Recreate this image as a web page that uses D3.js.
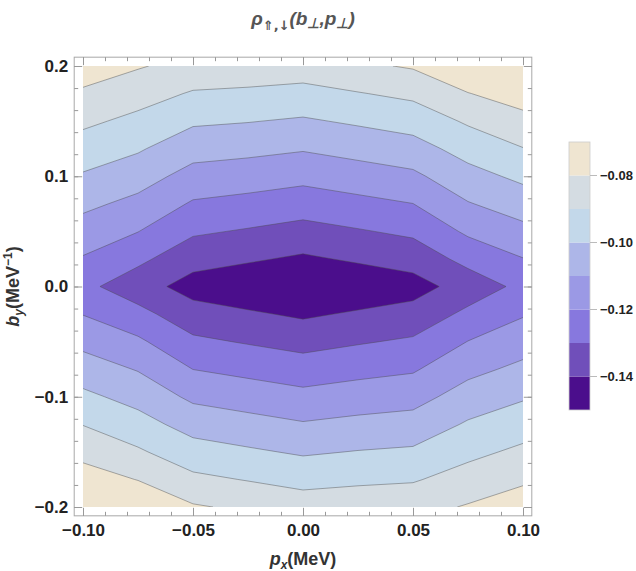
<!DOCTYPE html>
<html>
<head>
<meta charset="utf-8">
<title>rho contour</title>
<script src="https://d3js.org/d3.v7.min.js"></script>
<style>
  body { margin: 0; background: #fff; }
  text { font-family: "Liberation Sans", Arial, sans-serif; }
</style>
</head>
<body>
<div id="chart"></div>
<script>
// grid of the data: p_x columns, b_y rows (top row = 0.2)
var pxGrid = [-0.1, -0.075, -0.05, -0.025, 0, 0.025, 0.05, 0.075, 0.1];
var byGrid = [0.2, 0.175, 0.15, 0.125, 0.1, 0.075, 0.05, 0.025, 0,
              -0.025, -0.05, -0.075, -0.1, -0.125, -0.15, -0.175, -0.2];

// rho values, one row per b_y
var rho = [
  [-0.0749, -0.0792, -0.0833, -0.0840, -0.0850, -0.0818, -0.0790, -0.0720, -0.0682],
  [-0.0815, -0.0859, -0.0909, -0.0918, -0.0931, -0.0905, -0.0878, -0.0803, -0.0756],
  [-0.0880, -0.0925, -0.0985, -0.0996, -0.1012, -0.0986, -0.0959, -0.0887, -0.0829],
  [-0.0945, -0.0989, -0.1061, -0.1074, -0.1092, -0.1066, -0.1039, -0.0962, -0.0903],
  [-0.1010, -0.1057, -0.1136, -0.1152, -0.1172, -0.1146, -0.1120, -0.1034, -0.0978],
  [-0.1077, -0.1127, -0.1211, -0.1230, -0.1253, -0.1227, -0.1201, -0.1106, -0.1052],
  [-0.1143, -0.1198, -0.1286, -0.1309, -0.1334, -0.1308, -0.1281, -0.1183, -0.1127],
  [-0.1208, -0.1278, -0.1363, -0.1388, -0.1415, -0.1387, -0.1359, -0.1270, -0.1203],
  [-0.1275, -0.1356, -0.1440, -0.1470, -0.1495, -0.1470, -0.1440, -0.1356, -0.1275],
  [-0.1203, -0.1270, -0.1359, -0.1387, -0.1415, -0.1388, -0.1363, -0.1278, -0.1208],
  [-0.1127, -0.1183, -0.1281, -0.1308, -0.1334, -0.1309, -0.1286, -0.1198, -0.1143],
  [-0.1052, -0.1106, -0.1201, -0.1227, -0.1253, -0.1230, -0.1211, -0.1127, -0.1077],
  [-0.0978, -0.1034, -0.1120, -0.1146, -0.1172, -0.1152, -0.1136, -0.1057, -0.1010],
  [-0.0903, -0.0962, -0.1039, -0.1066, -0.1092, -0.1074, -0.1061, -0.0989, -0.0945],
  [-0.0829, -0.0887, -0.0959, -0.0986, -0.1012, -0.0996, -0.0985, -0.0925, -0.0880],
  [-0.0756, -0.0803, -0.0878, -0.0905, -0.0931, -0.0918, -0.0909, -0.0859, -0.0815],
  [-0.0682, -0.0720, -0.0790, -0.0818, -0.0850, -0.0840, -0.0833, -0.0792, -0.0749]
];

// contour levels and band colours (lowest band first)
var levels = [-0.14, -0.13, -0.12, -0.11, -0.10, -0.09, -0.08];
var barRange = [-0.15, -0.07];
var bandColors = ["#4b0e8c", "#704fba", "#8778de", "#9b99e5", "#adb6e8", "#c3d8ea", "#d4dce2", "#efe5d1"];

var xTicks = [-0.1, -0.05, 0, 0.05, 0.1];
var yTicks = [-0.2, -0.1, 0, 0.1, 0.2];
var barTicks = [-0.08, -0.10, -0.12, -0.14];

var width = 636, height = 571;

var svg = d3.select("#chart")
  .append("svg")
  .attr("width", width)
  .attr("height", height);

// scales
var x = d3.scaleLinear().domain([-0.1, 0.1]).range([83, 523]);
var y = d3.scaleLinear().domain([-0.2, 0.2]).range([507, 66]);
var pad = 0.02;
var fx0 = x(-0.1 - 0.2 * pad), fx1 = x(0.1 + 0.2 * pad);
var fy0 = y(0.2 + 0.4 * pad), fy1 = y(-0.2 - 0.4 * pad);

// grid index -> pixel
var nx = pxGrid.length, ny = byGrid.length;
var gx = d3.scaleLinear().domain([0.5, nx - 0.5]).range([x(pxGrid[0]), x(pxGrid[nx - 1])]);
var gy = d3.scaleLinear().domain([0.5, ny - 0.5]).range([y(byGrid[0]), y(byGrid[ny - 1])]);
var path = d3.geoPath(d3.geoTransform({
  point: function(a, b) { this.stream.point(gx(a), gy(b)); }
}));

var flat = [];
rho.forEach(function(row) { row.forEach(function(v) { flat.push(v); }); });
var contours = d3.contours().size([nx, ny]).thresholds(levels)(flat);

svg.append("clipPath").attr("id", "plotclip")
  .append("rect")
  .attr("x", x(-0.1)).attr("y", y(0.2))
  .attr("width", x(0.1) - x(-0.1)).attr("height", y(-0.2) - y(0.2));

var plot = svg.append("g").attr("clip-path", "url(#plotclip)");

plot.append("rect")
  .attr("x", x(-0.1)).attr("y", y(0.2))
  .attr("width", x(0.1) - x(-0.1)).attr("height", y(-0.2) - y(0.2))
  .attr("fill", bandColors[0]);

plot.selectAll("path.band")
  .data(contours)
  .enter().append("path")
  .attr("class", "band")
  .attr("d", path)
  .attr("fill", function(d, i) { return bandColors[i + 1]; });

plot.selectAll("path.line")
  .data(contours)
  .enter().append("path")
  .attr("class", "line")
  .attr("d", path)
  .attr("fill", "none")
  .attr("stroke", "#4a4a4a")
  .attr("stroke-opacity", 0.55)
  .attr("stroke-width", 0.8);

// frame
svg.append("rect")
  .attr("x", fx0).attr("y", fy0)
  .attr("width", fx1 - fx0).attr("height", fy1 - fy0)
  .attr("fill", "none")
  .attr("stroke", "#a8a8a8")
  .attr("stroke-width", 1);

var xMinor = d3.range(-10, 11).map(function(i) { return i / 100; });
var yMinor = d3.range(-10, 11).map(function(i) { return i / 50; });

function styleAxis(g) {
  g.select(".domain").remove();
  g.selectAll(".tick line").attr("stroke", "#999");
  g.selectAll(".tick text")
    .attr("fill", "#222")
    .style("font-size", "17px")
    .style("font-weight", "bold");
}

// bottom
svg.append("g").attr("transform", "translate(0," + fy1 + ")")
  .call(d3.axisBottom(x).tickValues(xMinor).tickSize(-4).tickFormat(""))
  .call(styleAxis);
svg.append("g").attr("transform", "translate(0," + fy1 + ")")
  .call(d3.axisBottom(x).tickValues(xTicks).tickSize(-8).tickPadding(8).tickFormat(d3.format(".2f")))
  .call(styleAxis);
// top
svg.append("g").attr("transform", "translate(0," + fy0 + ")")
  .call(d3.axisTop(x).tickValues(xMinor).tickSize(-4).tickFormat(""))
  .call(styleAxis);
svg.append("g").attr("transform", "translate(0," + fy0 + ")")
  .call(d3.axisTop(x).tickValues(xTicks).tickSize(-8).tickFormat(""))
  .call(styleAxis);
// left
svg.append("g").attr("transform", "translate(" + fx0 + ",0)")
  .call(d3.axisLeft(y).tickValues(yMinor).tickSize(-4).tickFormat(""))
  .call(styleAxis);
svg.append("g").attr("transform", "translate(" + fx0 + ",0)")
  .call(d3.axisLeft(y).tickValues(yTicks).tickSize(-8).tickPadding(6).tickFormat(d3.format(".1f")))
  .call(styleAxis);
// right
svg.append("g").attr("transform", "translate(" + fx1 + ",0)")
  .call(d3.axisRight(y).tickValues(yMinor).tickSize(-4).tickFormat(""))
  .call(styleAxis);
svg.append("g").attr("transform", "translate(" + fx1 + ",0)")
  .call(d3.axisRight(y).tickValues(yTicks).tickSize(-8).tickFormat(""))
  .call(styleAxis);

// title
var title = svg.append("text")
  .attr("x", (x(-0.1) + x(0.1)) / 2)
  .attr("y", 25)
  .attr("text-anchor", "middle")
  .attr("fill", "#555")
  .style("font-size", "19px")
  .style("font-weight", "bold")
  .style("font-style", "italic");
title.append("tspan").text("ρ");
title.append("tspan").attr("dy", 5)
  .style("font-family", "'DejaVu Sans', sans-serif")
  .style("font-style", "normal")
  .style("font-size", "13px").text("⇑,↓");
title.append("tspan").attr("dy", -5).text("(b");
title.append("tspan").attr("dy", 3).style("font-size", "14px").text("⊥");
title.append("tspan").attr("dy", -3).text(",p");
title.append("tspan").attr("dy", 3).style("font-size", "14px").text("⊥");
title.append("tspan").attr("dy", -3).text(")");

// x axis title
var xt = svg.append("text")
  .attr("x", (x(-0.1) + x(0.1)) / 2)
  .attr("y", 565)
  .attr("text-anchor", "middle")
  .attr("fill", "#333")
  .style("font-size", "18px")
  .style("font-weight", "bold");
xt.append("tspan").style("font-style", "italic").text("p");
xt.append("tspan").attr("dy", 4).style("font-size", "12px").style("font-style", "italic").text("x");
xt.append("tspan").attr("dy", -4).text("(MeV)");

// y axis title
var yt = svg.append("text")
  .attr("transform", "translate(19," + ((y(0.2) + y(-0.2)) / 2) + ") rotate(-90)")
  .attr("text-anchor", "middle")
  .attr("fill", "#333")
  .style("font-size", "18px")
  .style("font-weight", "bold");
yt.append("tspan").style("font-style", "italic").text("b");
yt.append("tspan").attr("dy", 4).style("font-size", "12px").style("font-style", "italic").text("y");
yt.append("tspan").attr("dy", -4).text("(MeV");
yt.append("tspan").attr("dy", -7).style("font-size", "12px").text("−1");
yt.append("tspan").attr("dy", 7).text(")");

// colour bar
var cb = d3.scaleLinear().domain(barRange).range([410, 142]);
var edges = [barRange[0]].concat(levels).concat([barRange[1]]);
var bar = svg.append("g");
bar.selectAll("rect.b")
  .data(bandColors)
  .enter().append("rect")
  .attr("class", "b")
  .attr("x", 569)
  .attr("width", 21)
  .attr("y", function(d, i) { return cb(edges[i + 1]); })
  .attr("height", function(d, i) { return cb(edges[i]) - cb(edges[i + 1]); })
  .attr("fill", function(d) { return d; });
bar.append("rect")
  .attr("x", 569).attr("y", cb(barRange[1]))
  .attr("width", 21).attr("height", cb(barRange[0]) - cb(barRange[1]))
  .attr("fill", "none").attr("stroke", "#ccc").attr("stroke-width", 0.8);
bar.selectAll("line.t")
  .data(barTicks)
  .enter().append("line")
  .attr("x1", 590).attr("x2", 597)
  .attr("y1", function(d) { return cb(d); })
  .attr("y2", function(d) { return cb(d); })
  .attr("stroke", "#bbb");
bar.selectAll("text.t")
  .data(barTicks)
  .enter().append("text")
  .attr("x", 600)
  .attr("y", function(d) { return cb(d) + 4.5; })
  .attr("fill", "#222")
  .style("font-size", "13px")
  .style("font-weight", "bold")
  .text(function(d) { return d3.format(".2f")(d); });
</script>
</body>
</html>
